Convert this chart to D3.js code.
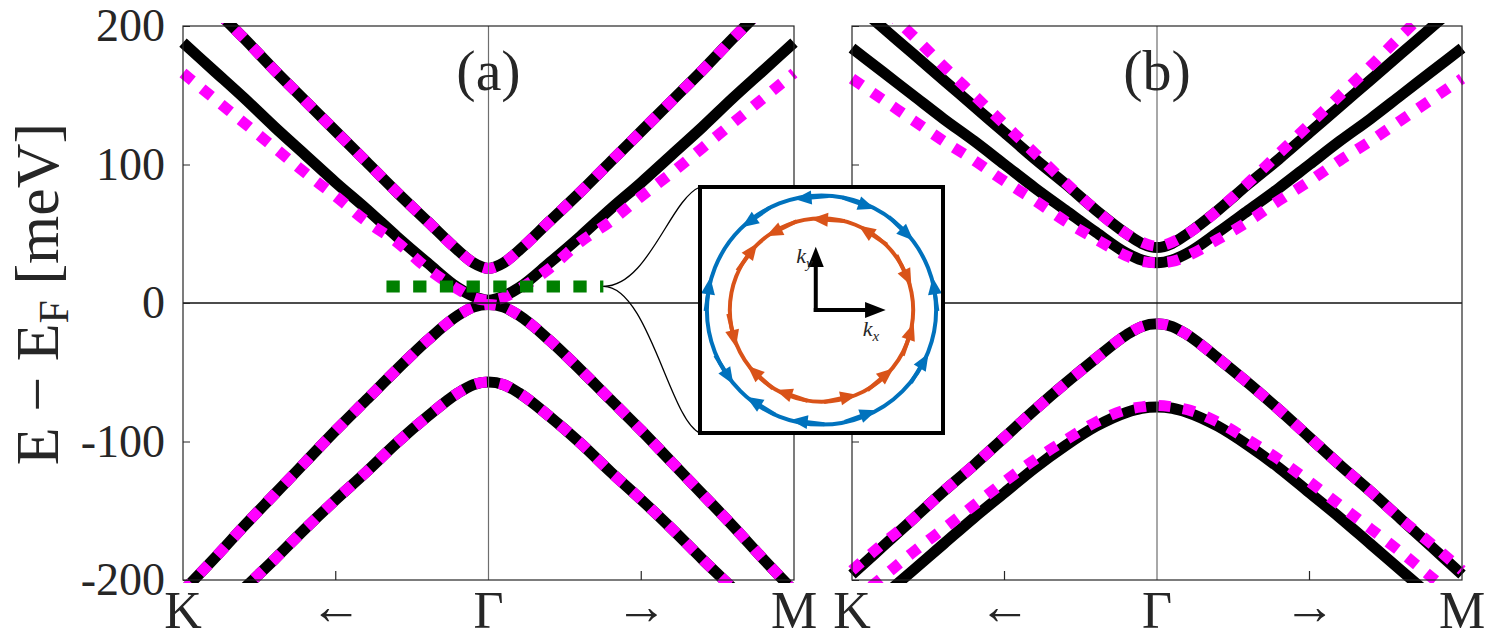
<!DOCTYPE html>
<html>
<head>
<meta charset="utf-8">
<script src="https://cdn.jsdelivr.net/npm/d3@7"></script>
<style>
body { margin: 0; background: #fff; }
text { font-family: "Liberation Serif", "DejaVu Serif", serif; fill: #262626; }
</style>
</head>
<body>
<div id="chart"></div>
<script>
var width = 1487, height = 641;

// position along the path: -1 = K, 0 = Gamma, 1 = M
var kGrid = [-1, -0.9, -0.8, -0.7, -0.6, -0.5, -0.4, -0.3, -0.2, -0.1, -0.05, 0, 0.05, 0.1, 0.2, 0.3, 0.4, 0.5, 0.6, 0.7, 0.8, 0.9, 1];

// panel (a) bands, meV
var a1 = [235, 213, 191, 168, 146, 124, 102, 80, 59, 38, 29, 25, 29, 38, 59, 80, 102, 124, 146, 168, 191, 213, 235];
var a2Black = [188, 168, 148, 127, 107, 87, 68, 48, 29, 11, 5, 2, 5, 11, 29, 48, 68, 87, 107, 127, 148, 168, 188];
var a2Magenta = [166, 148, 130, 112, 94, 77, 59, 44, 25, 10, 4, 2, 4, 10, 25, 44, 59, 77, 94, 112, 130, 148, 166];
var a3 = [-208, -185, -161, -138, -115, -92, -70, -48, -27, -9, -3, -1, -3, -9, -27, -48, -70, -92, -115, -138, -161, -185, -208];
var a4 = [-248, -227, -206, -185, -163, -142, -122, -101, -82, -65, -59, -57, -59, -65, -82, -101, -122, -142, -163, -185, -206, -227, -248];

// panel (b) bands, meV
var b1Black = [218, 199, 180, 161, 142, 123, 104, 86, 67, 50, 43, 40, 43, 50, 67, 86, 104, 123, 142, 161, 180, 199, 218];
var b1Magenta = [235, 214, 193, 171, 150, 129, 108, 87, 67, 50, 44, 41, 44, 50, 67, 87, 108, 129, 150, 171, 193, 214, 235];
var b2Black = [184, 167, 150, 133, 117, 100, 83, 67, 51, 36, 31, 29, 31, 36, 51, 67, 83, 100, 117, 133, 150, 167, 184];
var b2Magenta = [162, 147, 132, 117, 103, 88, 74, 59, 46, 34, 30, 29, 30, 34, 46, 59, 74, 88, 103, 117, 132, 147, 162];
var b3Black = [-196, -176, -156, -136, -117, -97, -77, -58, -40, -23, -17, -15, -17, -23, -40, -58, -77, -97, -117, -136, -156, -176, -196];
var b3Magenta = [-193, -174, -156, -136, -117, -97, -77, -58, -40, -23, -17, -15, -17, -23, -40, -58, -77, -97, -117, -136, -156, -174, -193];
var b4Black = [-231, -212, -193, -174, -155, -137, -119, -103, -89, -79, -76, -75, -76, -79, -89, -103, -119, -137, -155, -174, -193, -212, -231];
var b4Magenta = [-216, -198, -180, -163, -146, -129, -113, -99, -86, -77, -75, -74, -75, -77, -86, -99, -113, -129, -146, -163, -180, -198, -216];

var yTicks = [-200, -100, 0, 100, 200];
var xMinorTicks = [-0.5, 0.5];
var xLabelPos = [-1, -0.5, 0, 0.5, 1];
var xLabels = ["K", "\u2190", "\u0393", "\u2192", "M"];

// Fermi level cut shown in (a) and the contours of the inset
var cutK = [-0.334, 0.376];
var cutE = 12;
var contourR = [1.0, 0.8]; // blue, orange
var blueTheta = [95, 71, 46, 8, -31, -70, -97, -122, -148, 172, 125];
var blueDir = [185, -19, -44, 98, 59, 20, 173, 148, -58, 82, 215];
var orangeTheta = [116, 86, 56, 26, -19, -50, -78, -109, -132, -167, 144];
var orangeDir = [206, 176, 146, -64, 71, 40, 12, 161, 138, -77, 54];

var svg = d3.select("#chart").append("svg")
    .attr("width", width)
    .attr("height", height);

var y = d3.scaleLinear().domain([-200, 200]).range([580, 26]);
var xA = d3.scaleLinear().domain([-1, 1]).range([183, 794]);
var xB = d3.scaleLinear().domain([-1, 1]).range([852, 1462]);

function drawPanel(x, blacks, magentas, tag, label, showY) {
    var g = svg.append("g");

    svg.append("clipPath").attr("id", "clip" + tag)
        .append("rect")
        .attr("x", x(-1) - 10).attr("y", y(200) - 3)
        .attr("width", x(1) - x(-1) + 20).attr("height", y(-200) - y(200) + 6);

    var line = d3.line()
        .x(function (d, i) { return x(kGrid[i]); })
        .y(function (d) { return y(d); })
        .curve(d3.curveMonotoneX);

    var data = g.append("g").attr("clip-path", "url(#clip" + tag + ")");
    blacks.forEach(function (s) {
        data.append("path").attr("d", line(s))
            .attr("fill", "none").attr("stroke", "#000")
            .attr("stroke-width", 11).attr("stroke-linejoin", "round");
    });
    magentas.forEach(function (s) {
        data.append("path").attr("d", line(s))
            .attr("fill", "none").attr("stroke", "#ff00ff")
            .attr("stroke-width", 11).attr("stroke-dasharray", "12 12.6");
    });

    // Gamma line and zero line
    g.append("line")
        .attr("x1", x(0)).attr("x2", x(0)).attr("y1", y(200)).attr("y2", y(-200))
        .attr("stroke", "#6e6e6e").attr("stroke-width", 1.2);
    g.append("line")
        .attr("x1", x(-1)).attr("x2", x(1)).attr("y1", y(0)).attr("y2", y(0))
        .attr("stroke", "#111").attr("stroke-width", 1.3);

    // box
    g.append("rect")
        .attr("x", x(-1)).attr("y", y(200))
        .attr("width", x(1) - x(-1)).attr("height", y(-200) - y(200))
        .attr("fill", "none").attr("stroke", "#262626").attr("stroke-width", 1.2);

    // y ticks
    var yAxis = d3.axisLeft(y).tickValues(yTicks).tickSize(-7).tickPadding(18)
        .tickFormat(function (d) { return showY ? d : ""; });
    var ya = g.append("g").attr("transform", "translate(" + x(-1) + ",0)").call(yAxis);
    ya.select(".domain").remove();
    ya.selectAll("line").attr("stroke", "#262626");
    ya.selectAll("text").attr("font-size", 46).attr("font-family", "Liberation Serif").attr("fill", "#262626");

    // x minor ticks
    g.selectAll(".xt").data(xMinorTicks).enter().append("line")
        .attr("x1", function (d) { return x(d); }).attr("x2", function (d) { return x(d); })
        .attr("y1", y(-200)).attr("y2", y(-200) - 9)
        .attr("stroke", "#262626").attr("stroke-width", 1.2);

    // path labels
    g.selectAll(".xl").data(xLabels).enter().append("text")
        .attr("x", function (d, i) { return x(xLabelPos[i]); })
        .attr("y", function (d, i) { return (i === 1 || i === 3) ? 624 : 628; })
        .attr("text-anchor", "middle")
        .attr("font-size", 52)
        .text(function (d) { return d; });

    g.append("text")
        .attr("x", x(0)).attr("y", 90)
        .attr("text-anchor", "middle")
        .attr("font-size", 58)
        .attr("fill", "#000")
        .text(label);
    return g;
}

var gA = drawPanel(xA, [a1, a2Black, a3, a4], [a1, a2Magenta, a3, a4], "a", "(a)", true);
drawPanel(xB, [b1Black, b2Black, b3Black, b4Black], [b1Magenta, b2Magenta, b3Magenta, b4Magenta], "b", "(b)", false);

// Fermi cut in (a)
gA.append("line")
    .attr("x1", xA(cutK[0])).attr("x2", xA(cutK[1]))
    .attr("y1", y(cutE)).attr("y2", y(cutE))
    .attr("stroke", "#008000").attr("stroke-width", 12)
    .attr("stroke-dasharray", "13.3 13.4");

// y label
var yl = svg.append("text")
    .attr("transform", "translate(58," + 294 + ") rotate(-90)")
    .attr("text-anchor", "middle")
    .attr("font-size", 62);
yl.append("tspan").text("E \u2212 E");
yl.append("tspan").attr("font-size", 42).attr("dy", 10).text("F");
yl.append("tspan").attr("dy", -10).text(" [meV]");

// inset
var box = {x: 700, y: 187, w: 243, h: 246};
var px = xA(cutK[1]), py = y(cutE);
svg.append("path")
    .attr("d", "M" + px + "," + py + " C" + (px + 45) + "," + py + " " + (box.x - 30) + "," + (box.y + 12) + " " + box.x + "," + box.y)
    .attr("fill", "none").attr("stroke", "#000").attr("stroke-width", 1.3);
svg.append("path")
    .attr("d", "M" + px + "," + py + " C" + (px + 45) + "," + py + " " + (box.x - 30) + "," + (box.y + box.h - 12) + " " + box.x + "," + (box.y + box.h))
    .attr("fill", "none").attr("stroke", "#000").attr("stroke-width", 1.3);

var ins = svg.append("g");
ins.append("rect")
    .attr("x", box.x).attr("y", box.y).attr("width", box.w).attr("height", box.h)
    .attr("fill", "#fff").attr("stroke", "none");

var kx = d3.scaleLinear().domain([-1.06, 1.06]).range([box.x, box.x + box.w]);
var ky = d3.scaleLinear().domain([-1.08, 1.08]).range([box.y + box.h - 1, box.y + 1]);
var rpx = function (r) { return kx(r) - kx(0); };

var colors = ["#0072bd", "#d95319"];
contourR.forEach(function (r, j) {
    ins.append("circle")
        .attr("cx", kx(0)).attr("cy", ky(0)).attr("r", rpx(r))
        .attr("fill", "none").attr("stroke", colors[j]).attr("stroke-width", 4);
});

function arrows(thetas, dirs, r, color) {
    thetas.forEach(function (t, i) {
        var a = t * Math.PI / 180;
        var ag = ins.append("g")
            .attr("transform", "translate(" + kx(r * Math.cos(a)) + "," + ky(r * Math.sin(a)) + ") rotate(" + (-dirs[i]) + ")");
        ag.append("line").attr("x1", -17).attr("x2", 6).attr("y1", 0).attr("y2", 0)
            .attr("stroke", color).attr("stroke-width", 4);
        ag.append("path").attr("d", "M17,0 L0,-7 L0,7 Z").attr("fill", color);
    });
}
arrows(blueTheta, blueDir, contourR[0], colors[0]);
arrows(orangeTheta, orangeDir, contourR[1], colors[1]);

// k axes
var ox = kx(-0.05), oy = ky(0);
ins.append("line").attr("x1", ox).attr("y1", oy + 2).attr("x2", ox).attr("y2", ky(0.42))
    .attr("stroke", "#000").attr("stroke-width", 4);
ins.append("path").attr("d", "M" + ox + "," + ky(0.56) + " L" + (ox - 8) + "," + ky(0.38) + " L" + (ox + 8) + "," + ky(0.38) + " Z");
ins.append("line").attr("x1", ox - 2).attr("y1", oy).attr("x2", kx(0.43)).attr("y2", oy)
    .attr("stroke", "#000").attr("stroke-width", 4);
ins.append("path").attr("d", "M" + kx(0.56) + "," + oy + " L" + kx(0.38) + "," + (oy - 8) + " L" + kx(0.38) + "," + (oy + 8) + " Z");

var tky = ins.append("text").attr("x", ox - 3).attr("y", ky(0.42)).attr("text-anchor", "end")
    .attr("font-size", 22).attr("font-style", "italic").attr("fill", "#000");
tky.append("tspan").text("k");
tky.append("tspan").attr("font-size", 15).attr("dy", 5).text("y");
var tkx = ins.append("text").attr("x", kx(0.36)).attr("y", oy + 26)
    .attr("font-size", 22).attr("font-style", "italic").attr("fill", "#000");
tkx.append("tspan").text("k");
tkx.append("tspan").attr("font-size", 15).attr("dy", 5).text("x");

ins.append("rect")
    .attr("x", box.x).attr("y", box.y).attr("width", box.w).attr("height", box.h)
    .attr("fill", "none").attr("stroke", "#000").attr("stroke-width", 4);
</script>
</body>
</html>
